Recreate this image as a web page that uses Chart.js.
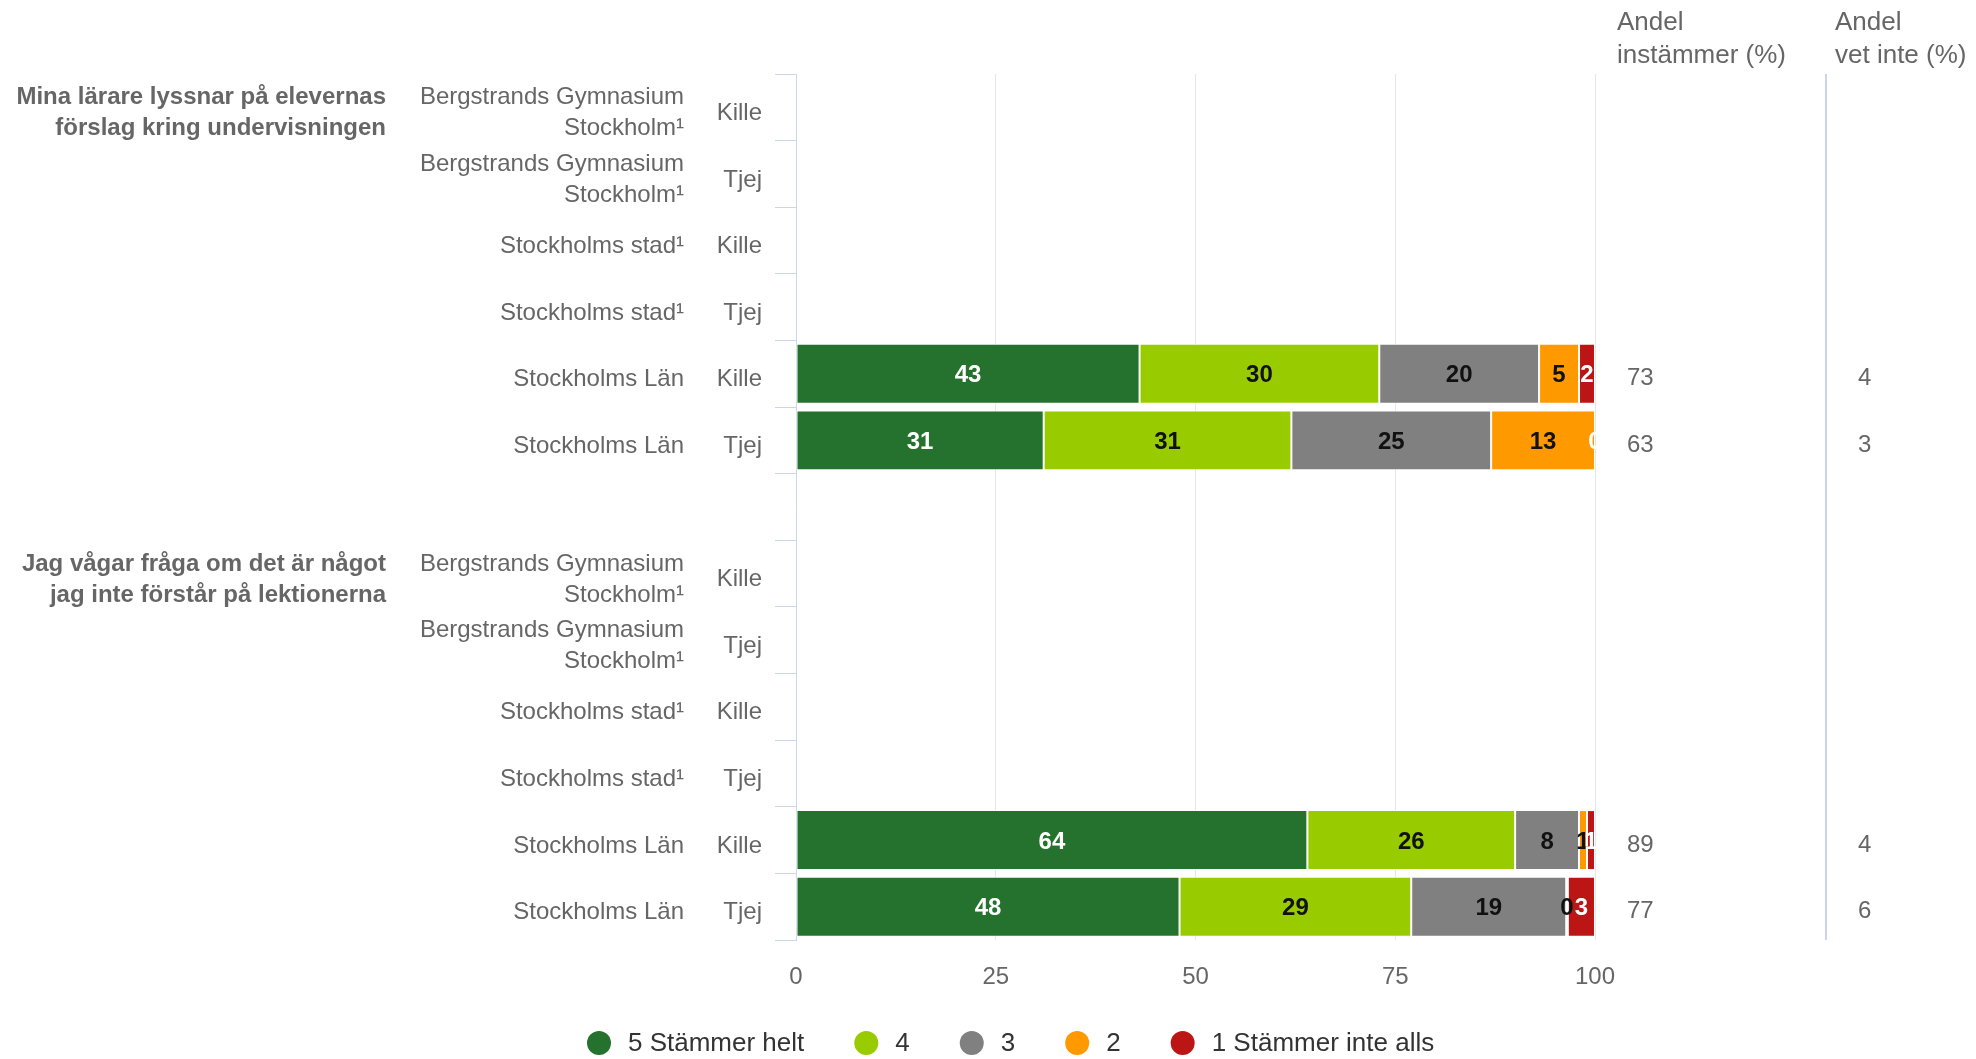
<!DOCTYPE html>
<html lang="sv">
<head>
<meta charset="utf-8">
<title>Elevenkät</title>
<script src="https://cdn.jsdelivr.net/npm/chart.js@4/dist/chart.umd.min.js"></script>
<style>
    html, body { margin: 0; padding: 0; background: #fff; }
    #wrap { width: 1976px; height: 1059px; position: relative; }
</style>
</head>
<body>
<div id="wrap"><canvas id="chart"></canvas></div>
<script>
// Rows from top to bottom, an empty row separates the two questions
const questions = [
    ['Mina lärare lyssnar på elevernas', 'förslag kring undervisningen'],
    ['Jag vågar fråga om det är något', 'jag inte förstår på lektionerna']
];
const questionRows = [0, 7];
const units = [
    ['Bergstrands Gymnasium', 'Stockholm¹'], ['Bergstrands Gymnasium', 'Stockholm¹'],
    ['Stockholms stad¹'], ['Stockholms stad¹'], ['Stockholms Län'], ['Stockholms Län'],
    [],
    ['Bergstrands Gymnasium', 'Stockholm¹'], ['Bergstrands Gymnasium', 'Stockholm¹'],
    ['Stockholms stad¹'], ['Stockholms stad¹'], ['Stockholms Län'], ['Stockholms Län']
];
const genders = ['Kille', 'Tjej', 'Kille', 'Tjej', 'Kille', 'Tjej', '',
                 'Kille', 'Tjej', 'Kille', 'Tjej', 'Kille', 'Tjej'];

const seriesNames = ['5 Stämmer helt', '4', '3', '2', '1 Stämmer inte alls'];
const helt    = [null, null, null, null, 43, 31, null, null, null, null, null, 64, 48];
const fyra    = [null, null, null, null, 30, 31, null, null, null, null, null, 26, 29];
const tre     = [null, null, null, null, 20, 25, null, null, null, null, null, 8, 19.4];
const tva     = [null, null, null, null, 5, 13, null, null, null, null, null, 1, 0.2];
const inteAlls = [null, null, null, null, 2, 0, null, null, null, null, null, 1, 3.4];

const andelInstammer = [null, null, null, null, 73, 63, null, null, null, null, null, 89, 77];
const andelVetInte   = [null, null, null, null, 4, 3, null, null, null, null, null, 4, 6];
const xTicks = [0, 25, 50, 75, 100];

const FONT = "'Liberation Sans', Arial, Helvetica, sans-serif";
const TEXT = '#666666';
const AXIS = '#ccd6eb';
const ROW_SHIFT = 6; // texts sit a little below the row centre

const colors = ['#25722e', '#99cc00', '#808080', '#ff9900', '#bb1515'];
const labelColors = ['#ffffff', '#111111', '#111111', '#111111', '#ffffff'];

Chart.defaults.font.family = FONT;

function makeDataset(name, values, i) {
    return {
        label: name,
        data: values,
        backgroundColor: colors[i],
        borderColor: '#ffffff',
        borderWidth: 1,
        borderSkipped: false,
        barPercentage: 0.9,
        categoryPercentage: 1.0
    };
}

// Value labels inside the bars
const barLabels = {
    id: 'barLabels',
    afterDatasetsDraw(chart) {
        const ctx = chart.ctx;
        ctx.save();
        ctx.font = 'bold 24px ' + FONT;
        ctx.textAlign = 'center';
        ctx.textBaseline = 'middle';
        chart.data.datasets.forEach((ds, i) => {
            const meta = chart.getDatasetMeta(i);
            meta.data.forEach((bar, j) => {
                const v = ds.data[j];
                if (v === null || v === undefined) return;
                ctx.fillStyle = labelColors[i];
                ctx.fillText(String(Math.round(v)), (bar.x + bar.base) / 2, bar.y + 2);
            });
        });
        ctx.restore();
    }
};

// Row texts, side columns, headers and legend
const sideText = {
    id: 'sideText',
    afterDraw(chart) {
        const ctx = chart.ctx;
        const y = chart.scales.y;
        const area = chart.chartArea;
        ctx.save();
        ctx.textBaseline = 'middle';

        // units
        ctx.font = '24px ' + FONT;
        ctx.fillStyle = TEXT;
        ctx.textAlign = 'right';
        units.forEach((lines, i) => {
            const cy = y.getPixelForValue(i) + ROW_SHIFT;
            if (lines.length === 2) {
                ctx.fillText(lines[0], 684, cy - 15.5);
                ctx.fillText(lines[1], 684, cy + 15.5);
            } else if (lines.length === 1) {
                ctx.fillText(lines[0], 684, cy);
            }
        });

        // questions
        ctx.font = 'bold 24px ' + FONT;
        questions.forEach((lines, k) => {
            const cy = y.getPixelForValue(questionRows[k]) + ROW_SHIFT;
            ctx.fillText(lines[0], 386, cy - 15.5);
            ctx.fillText(lines[1], 386, cy + 15.5);
        });

        // side columns
        ctx.font = '24px ' + FONT;
        ctx.textAlign = 'left';
        andelInstammer.forEach((v, i) => {
            if (v === null) return;
            ctx.fillText(String(v), 1627, y.getPixelForValue(i) + ROW_SHIFT - 1);
        });
        andelVetInte.forEach((v, i) => {
            if (v === null) return;
            ctx.fillText(String(v), 1858, y.getPixelForValue(i) + ROW_SHIFT - 1);
        });

        // divider before the last column
        ctx.strokeStyle = AXIS;
        ctx.lineWidth = 2;
        ctx.beginPath();
        ctx.moveTo(1826, area.top);
        ctx.lineTo(1826, area.bottom);
        ctx.stroke();

        // column headers
        ctx.font = '26px ' + FONT;
        ctx.fillText('Andel', 1617, 23);
        ctx.fillText('instämmer (%)', 1617, 56);
        ctx.fillText('Andel', 1835, 23);
        ctx.fillText('vet inte (%)', 1835, 56);

        // legend
        let x = 599;
        const ly = 1043;
        chart.data.datasets.forEach((ds, i) => {
            ctx.fillStyle = ds.backgroundColor;
            ctx.beginPath();
            ctx.arc(x, ly, 12, 0, Math.PI * 2);
            ctx.fill();
            ctx.fillStyle = '#333333';
            ctx.fillText(ds.label, x + 29, ly + 1);
            x += 29 + ctx.measureText(ds.label).width + 62;
        });
        ctx.restore();
    }
};

const ctx = document.getElementById('chart').getContext('2d');
new Chart(ctx, {
    type: 'bar',
    data: {
        labels: genders,
        datasets: [
            makeDataset(seriesNames[0], helt, 0),
            makeDataset(seriesNames[1], fyra, 1),
            makeDataset(seriesNames[2], tre, 2),
            makeDataset(seriesNames[3], tva, 3),
            makeDataset(seriesNames[4], inteAlls, 4)
        ]
    },
    options: {
        indexAxis: 'y',
        responsive: true,
        maintainAspectRatio: false,
        animation: false,
        layout: { padding: { top: 74, right: 381, left: 0, bottom: 0 } },
        plugins: {
            legend: { display: false },
            tooltip: { enabled: false }
        },
        scales: {
            x: {
                stacked: true,
                min: 0,
                max: 100,
                afterBuildTicks: scale => { scale.ticks = xTicks.map(v => ({ value: v })); },
                afterFit: scale => { scale.height = 119; },
                grid: { color: '#e6e6e6', lineWidth: 1, drawTicks: false },
                border: { display: false },
                ticks: { color: TEXT, font: { size: 24 }, padding: 23, maxRotation: 0 }
            },
            y: {
                stacked: true,
                afterFit: scale => { scale.width = 796; },
                grid: { drawOnChartArea: false, drawTicks: true, tickLength: 21, color: AXIS },
                border: { display: true, color: AXIS, width: 1 },
                ticks: { color: TEXT, font: { size: 24 }, padding: 13, autoSkip: false, labelOffset: 6 }
            }
        }
    },
    plugins: [barLabels, sideText]
});
</script>
</body>
</html>
